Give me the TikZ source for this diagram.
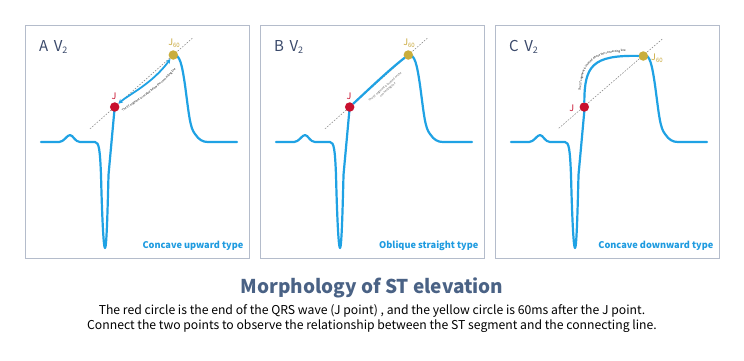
\documentclass[tikz,border=0pt]{standalone}
\usepackage{fontspec}
\newfontfamily\cjk{Noto Sans CJK SC}
\usetikzlibrary{decorations.text,arrows.meta}
\definecolor{wave}{HTML}{1FA2E4}
\definecolor{panelborder}{HTML}{B4BCCB}
\definecolor{jred}{HTML}{C8102E}
\definecolor{jyel}{HTML}{C9AE3C}
\definecolor{jyeltext}{HTML}{C9A83A}
\definecolor{labelblue}{HTML}{3B4A6B}
\definecolor{titleblue}{HTML}{4A6285}
\definecolor{typeblue}{HTML}{1E9BE0}
\definecolor{stgray}{HTML}{555555}
\tikzset{
  wavepath/.style={draw=wave, line width=2.2pt, line join=round, line cap=round},
  panelbox/.style={draw=panelborder, line width=1pt},
  jdot/.style={circle, fill=jred, minimum size=9.5pt, inner sep=0pt},
  jsixty/.style={circle, fill=jyel, minimum size=9.5pt, inner sep=0pt},
  conline/.style={draw=gray, line width=0.5pt, dash pattern=on 1.6pt off 1.4pt},
  jlab/.style={text=jred, font=\cjk\fontsize{9}{9}\selectfont, inner sep=0pt},
  jsixlab/.style={text=jyeltext, font=\cjk\fontsize{9}{9}\selectfont, inner sep=0pt},
  panellab/.style={text=labelblue, font=\cjk\fontsize{15}{15}\selectfont, anchor=west, inner sep=0pt},
  typelab/.style={text=typeblue, font=\cjk\bfseries\fontsize{9.2}{10}\selectfont, anchor=east, inner sep=0pt},
  tinytext/.style={text=stgray, font=\cjk\fontsize{2.8}{3.8}\selectfont, inner sep=0pt, align=center},
}
\newcommand{\ecgwave}{%
  \draw[wavepath] (41,142) -- (59,142) .. controls (64,142) and (67,135) .. (70,135)
    .. controls (73,135) and (75,142) .. (80,142) -- (95,142)
    .. controls (99,142) and (100,150) .. (101,175)
    .. controls (102,215) and (103.5,248) .. (105,248)
    .. controls (106.5,248) and (107.5,215) .. (108.5,175) -- (114.7,107);
  \draw[wavepath] (173.3,55) .. controls (180,54) and (182,65) .. (185,85)
    .. controls (189,115) and (190,128) .. (195,134)
    .. controls (199,140) and (203,142) .. (208,142) -- (237,142);
}
\begin{document}
\begin{tikzpicture}[x=1pt,y=-1pt]
\useasboundingbox (0,0) rectangle (744,360);
\fill[white] (0,0) rectangle (744,360);

% panels
\foreach \o in {0,235,470}{
  \draw[panelbox] (25+\o,25) rectangle (249+\o,258);
}

% ---------- Panel A ----------
\node[panellab] (labA) at (39,47) {A\hspace{5.5pt}V\raisebox{-2.5pt}{\fontsize{9}{9}\selectfont 2}};
\draw[conline] (90,128.8) -- (193.3,37.3);
\ecgwave
\node[jdot] (Ja) at (114.7,107) {};
\node[jsixty] (J60a) at (173.3,55) {};
\draw[wave, line width=1.8pt, {Stealth[length=4.5pt,width=4.5pt]}-{Stealth[length=4.5pt,width=4.5pt]}]
  (Ja) .. controls (128,95) and (152,84) .. (J60a);
\path[color=stgray, postaction={decorate}, decoration={text along path, text align=center,
  text={|\cjk\fontsize{2.8}{3}\selectfont|The ST segment is located below the connecting line}}]
  (119,115) .. controls (133,103) and (158,92) .. (179,65);
\node[jlab] (JaL) at (114,96) {J};
\node[jsixlab] (J60aL) at (174,43) {J\raisebox{-1.5pt}{\fontsize{6}{6}\selectfont 60}};
\node[typelab] (typeA) at (243.5,246) {Concave upward type};

% ---------- Panel B ----------
\node[panellab] (labB) at (274,47) {B\hspace{5.5pt}V\raisebox{-2.5pt}{\fontsize{9}{9}\selectfont 2}};
\draw[conline] (325,128.8) -- (428.3,37.3);
\begin{scope}[xshift=235pt]
\ecgwave
\end{scope}
\node[jdot] (Jb) at (349.7,107) {};
\node[jsixty] (J60b) at (408.3,55) {};
\draw[wavepath] (Jb) .. controls (368,90) and (390,69) .. (J60b);
\node[tinytext, rotate=41.6] (textB) at (386.5,88.5) {The ST segment is located on the\\connecting line};
\node[jlab] (JbL) at (349,96) {J};
\node[jsixlab] (J60bL) at (409,43) {J\raisebox{-1.5pt}{\fontsize{6}{6}\selectfont 60}};
\node[typelab] (typeB) at (478.5,246) {Oblique straight type};

% ---------- Panel C ----------
\node[panellab] (labC) at (509,47) {C\hspace{5.5pt}V\raisebox{-2.5pt}{\fontsize{9}{9}\selectfont 2}};
\draw[conline] (558.7,128.3) -- (662.3,39);
\begin{scope}[xshift=470pt]
\ecgwave
\end{scope}
\node[jdot] (Jc) at (584.3,107) {};
\node[jsixty] (J60c) at (643.3,56) {};
\draw[wavepath] (Jc) .. controls (584.5,66) and (592,55) .. (J60c);
\path[color=stgray, postaction={decorate}, decoration={text along path, text align=center,
  text={|\cjk\fontsize{2.8}{3}\selectfont|The ST segment is located above the connecting line}}]
  (580.5,101) .. controls (580.5,64) and (589,51) .. (636,51.5);
\node[jlab] (JcL) at (571.7,108) {J};
\node[jsixlab, anchor=west] (J60cL) at (651,58) {J\raisebox{-1.5pt}{\fontsize{6}{6}\selectfont 60}};
\node[typelab] (typeC) at (713.5,246) {Concave downward type};

% ---------- Title and caption ----------
\node[text=titleblue, font=\cjk\bfseries\fontsize{19}{21}\selectfont, inner sep=0pt] (title) at (372,288) {Morphology of ST elevation};
\node[text=black, font=\cjk\fontsize{12.2}{15}\selectfont, inner sep=0pt, align=center] (caption) at (372,318.5)
  {The red circle is the end of the QRS wave (J point) , and the yellow circle is 60ms after the J point.\\
   Connect the two points to observe the relationship between the ST segment and the connecting line.};
\end{tikzpicture}
\end{document}
